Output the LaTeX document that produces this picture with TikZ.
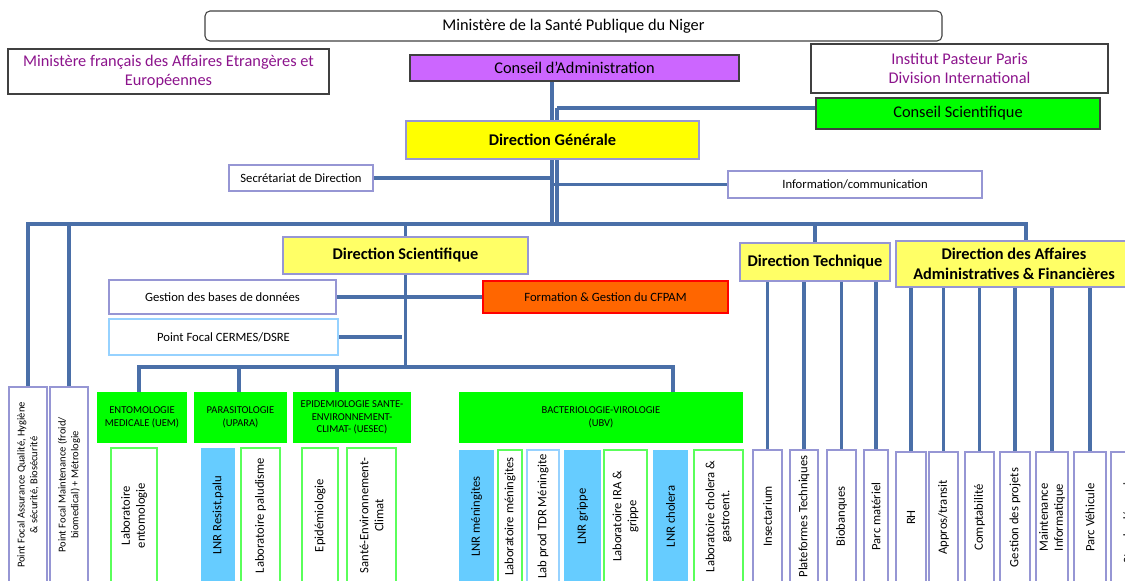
\documentclass[tikz,border=0pt]{standalone}
\usepackage{fontspec}
\setmainfont{Carlito}
\usetikzlibrary{backgrounds,calc}

\newlength{\px}
\setlength{\px}{0.02cm}
\newcommand*{\fbig}{\fontsize{9.3}{11.2}\selectfont}
\newcommand*{\fsmall}{\fontsize{7.2}{8.6}\selectfont}
\newcommand*{\ftiny}{\fontsize{6}{7.2}\selectfont}

\definecolor{orgline}{RGB}{74,111,168}
\definecolor{lav}{RGB}{150,150,212}
\definecolor{ptext}{RGB}{140,20,140}
\definecolor{capurple}{RGB}{204,102,255}
\definecolor{ggreen}{RGB}{0,255,0}
\definecolor{gborder}{RGB}{90,255,90}
\definecolor{yel}{RGB}{255,255,0}
\definecolor{ylight}{RGB}{255,255,102}
\definecolor{orng}{RGB}{255,102,0}
\definecolor{lnrblue}{RGB}{102,204,255}
\definecolor{lblue}{RGB}{150,210,255}

\tikzset{
  org/.style={draw, rectangle, inner sep=0pt, align=center},
  sz/.style 2 args={minimum width=#1\px, minimum height=#2\px},
  vsz/.style 2 args={minimum width=#2\px, minimum height=#1\px},
  frame/.style={org, draw=black!75, line width=0.6pt, font=\fbig},
  head/.style={org, draw=lav, line width=0.8pt, font=\fbig\bfseries},
  small/.style={org, draw=lav, line width=0.8pt, font=\fsmall},
  unit/.style={org, draw=none, fill=ggreen, font=\ftiny},
  vbox/.style={org, rotate=90, draw=lav, line width=0.8pt, font=\fsmall},
  labbox/.style={vbox, draw=gborder},
  lnrbox/.style={vbox, draw=none, fill=lnrblue},
  link/.style={draw=orgline, line width=3.6\px}
}

\begin{document}
\begin{tikzpicture}[x=\px, y=-\px]
%\draw[help lines] (0,0) grid (1125,581);
\useasboundingbox (0,0) rectangle (1125,581);
\clip (0,0) rectangle (1125,581);

\node[frame, rounded corners=5\px, sz={737}{30}] (msp) at (573.5,26) {Ministère de la Santé Publique du Niger};
\node[frame, text=ptext, sz={321}{45}] (mfae) at (168.5,71.5) {Ministère français des Affaires Etrangères et\\Européennes};
\node[frame, fill=capurple, sz={329}{26}] (ca) at (574.5,68) {Conseil d’Administration};
\node[frame, text=ptext, sz={297}{49}] (ipp) at (959.5,68.5) {Institut Pasteur Paris\\Division International};
\node[frame, fill=ggreen, sz={284}{31}] (cs) at (958,113.5) {Conseil Scientifique};
\node[head, fill=yel, sz={293}{38}] (dg) at (552.5,140) {Direction Générale};
\node[small, sz={144}{26}] (sdd) at (301,178) {Secrétariat de Direction};
\node[small, sz={254}{27}] (ic) at (855,184.5) {Information/communication};

\node[head, fill=ylight, sz={245}{37}] (ds) at (405.5,255.5) {Direction Scientifique};
\node[head, fill=ylight, sz={150}{38}] (dt) at (815,262) {Direction Technique};
\node[head, fill=ylight, sz={236}{46}] (daaf) at (1014,264) {Direction des Affaires\\Administratives \& Financières};

\node[small, sz={227}{34}] (gbd) at (222.5,297) {Gestion des bases de données};
\node[small, draw=lblue, sz={229}{36}] (pfc) at (223.5,337) {Point Focal CERMES/DSRE};
\node[small, fill=orng, draw=red, sz={245}{32}] (cfpam) at (605.5,297) {Formation \& Gestion du CFPAM};

% unites
\node[unit, sz={90}{51}] (uem) at (142,417.5) {ENTOMOLOGIE\\MEDICALE (UEM)};
\node[unit, sz={93}{51}] (upara) at (240.5,417.5) {PARASITOLOGIE\\(UPARA)};
\node[unit, sz={118}{51}] (uesec) at (352,417.5) {EPIDEMIOLOGIE SANTE-\\ENVIRONNEMENT-\\CLIMAT- (UESEC)};
\node[unit, sz={284}{51}] (ubv) at (601,417.5) {BACTERIOLOGIE-VIROLOGIE\\(UBV)};

% points focaux
\node[vbox, font=\ftiny, vsz={38}{196}] (pfq) at (28,485) {Point Focal Assurance Qualité, Hygiène\\\& sécurité, Biosécurité};
\node[vbox, font=\ftiny, vsz={38}{196}] (pfm) at (69,485) {Point Focal Maintenance (froid/\\biomedical) + Métrologie};

% laboratoires
\node[labbox, vsz={46}{135}] (labento) at (134,515.5) {Laboratoire\\entomologie};
\node[lnrbox, vsz={34}{135}] (lnrpalu) at (218,515.5) {LNR Resist.palu};
\node[labbox, vsz={39}{135}] (labpalu) at (260.5,515.5) {Laboratoire paludisme};
\node[labbox, vsz={36}{135}] (epid) at (320,515.5) {Epidémiologie};
\node[labbox, vsz={49}{135}] (sec) at (371.5,515.5) {Santé-Environnement-\\Climat};
\node[lnrbox, vsz={35}{133}] (lnrmen) at (476.5,516.5) {LNR méningites};
\node[labbox, vsz={24}{133}] (labmen) at (510,516.5) {Laboratoire méningites};
\node[vbox, draw=lblue, vsz={32}{133}] (tdr) at (543,516.5) {Lab prod TDR Méningite};
\node[lnrbox, vsz={37}{133}] (lnrgrip) at (582.5,516.5) {LNR grippe};
\node[labbox, vsz={43}{133}] (labira) at (625.5,516.5) {Laboratoire IRA \&\\grippe};
\node[lnrbox, vsz={35}{133}] (lnrchol) at (670.5,516.5) {LNR cholera};
\node[labbox, vsz={49}{133}] (labchol) at (718.5,516.5) {Laboratoire cholera \&\\gastroent.};

% services techniques et administratifs
\node[vbox, vsz={29}{133}] (insect) at (767.5,516.5) {Insectarium};
\node[vbox, vsz={28}{133}] (plat) at (804,516.5) {Plateformes Techniques};
\node[vbox, vsz={29}{133}] (bio) at (841.5,516.5) {Biobanques};
\node[vbox, vsz={24}{133}] (parcm) at (876,516.5) {Parc matériel};
\node[vbox, vsz={30}{131}] (rh) at (911,517.5) {RH};
\node[vbox, vsz={29}{131}] (appro) at (943.5,517.5) {Appros/transit};
\node[vbox, vsz={29}{131}] (compta) at (979.5,517.5) {Comptabilité};
\node[vbox, vsz={30}{131}] (gproj) at (1015,517.5) {Gestion des projets};
\node[vbox, vsz={32}{131}] (maint) at (1052,517.5) {Maintenance\\Informatique};
\node[vbox, vsz={32}{131}] (parcv) at (1090,517.5) {Parc Véhicule};
\node[vbox, vsz={34}{131}] (std) at (1128,517.5) {Standard/courrier};

\begin{scope}[on background layer]
\coordinate (t) at (552,224);
\coordinate (tc) at (557,108);
\coordinate (ta) at (1026,224);
\draw[link] (ca.south -| t) -- (t);
\draw[link] (tc) -- (tc -| cs.west);
\draw[link] (tc) -- (tc |- t);
\draw[link] (sdd.east) -- (sdd.east -| t);
\draw[link] (ic.west) -- (ic.west -| t);
\draw[link] (pfq.east) |- (ta) -- (ta |- daaf.north);
\draw[link] (pfm.east) -- (pfm.east |- t);
\draw[link] (ds.north) -- (ds.north |- t);
\draw[link] (dt.north) -- (dt.north |- t);

\coordinate (s1) at (139,367);
\coordinate (s2) at (239,367);
\coordinate (s3) at (337,367);
\coordinate (s4) at (673,367);
\draw[link] (ds.south) -- (ds.south |- s1);
\draw[link] (s1 |- uem.north) -- (s1) -- (s4) -- (s4 |- ubv.north);
\draw[link] (s2) -- (s2 |- upara.north);
\draw[link] (s3) -- (s3 |- uesec.north);
\draw[link] (gbd.east) -- (cfpam.west);
\draw[link] (pfc.east) -- ($(pfc.east -| ds.south)+(-4,0)$);

\foreach \n in {insect,plat,bio,parcm}
  \draw[link] (\n.east |- dt.south) -- (\n.east);
\foreach \n in {rh,appro,compta,gproj,maint,parcv,std}
  \draw[link] (\n.east |- daaf.south) -- (\n.east);
\end{scope}

\end{tikzpicture}
\end{document}
